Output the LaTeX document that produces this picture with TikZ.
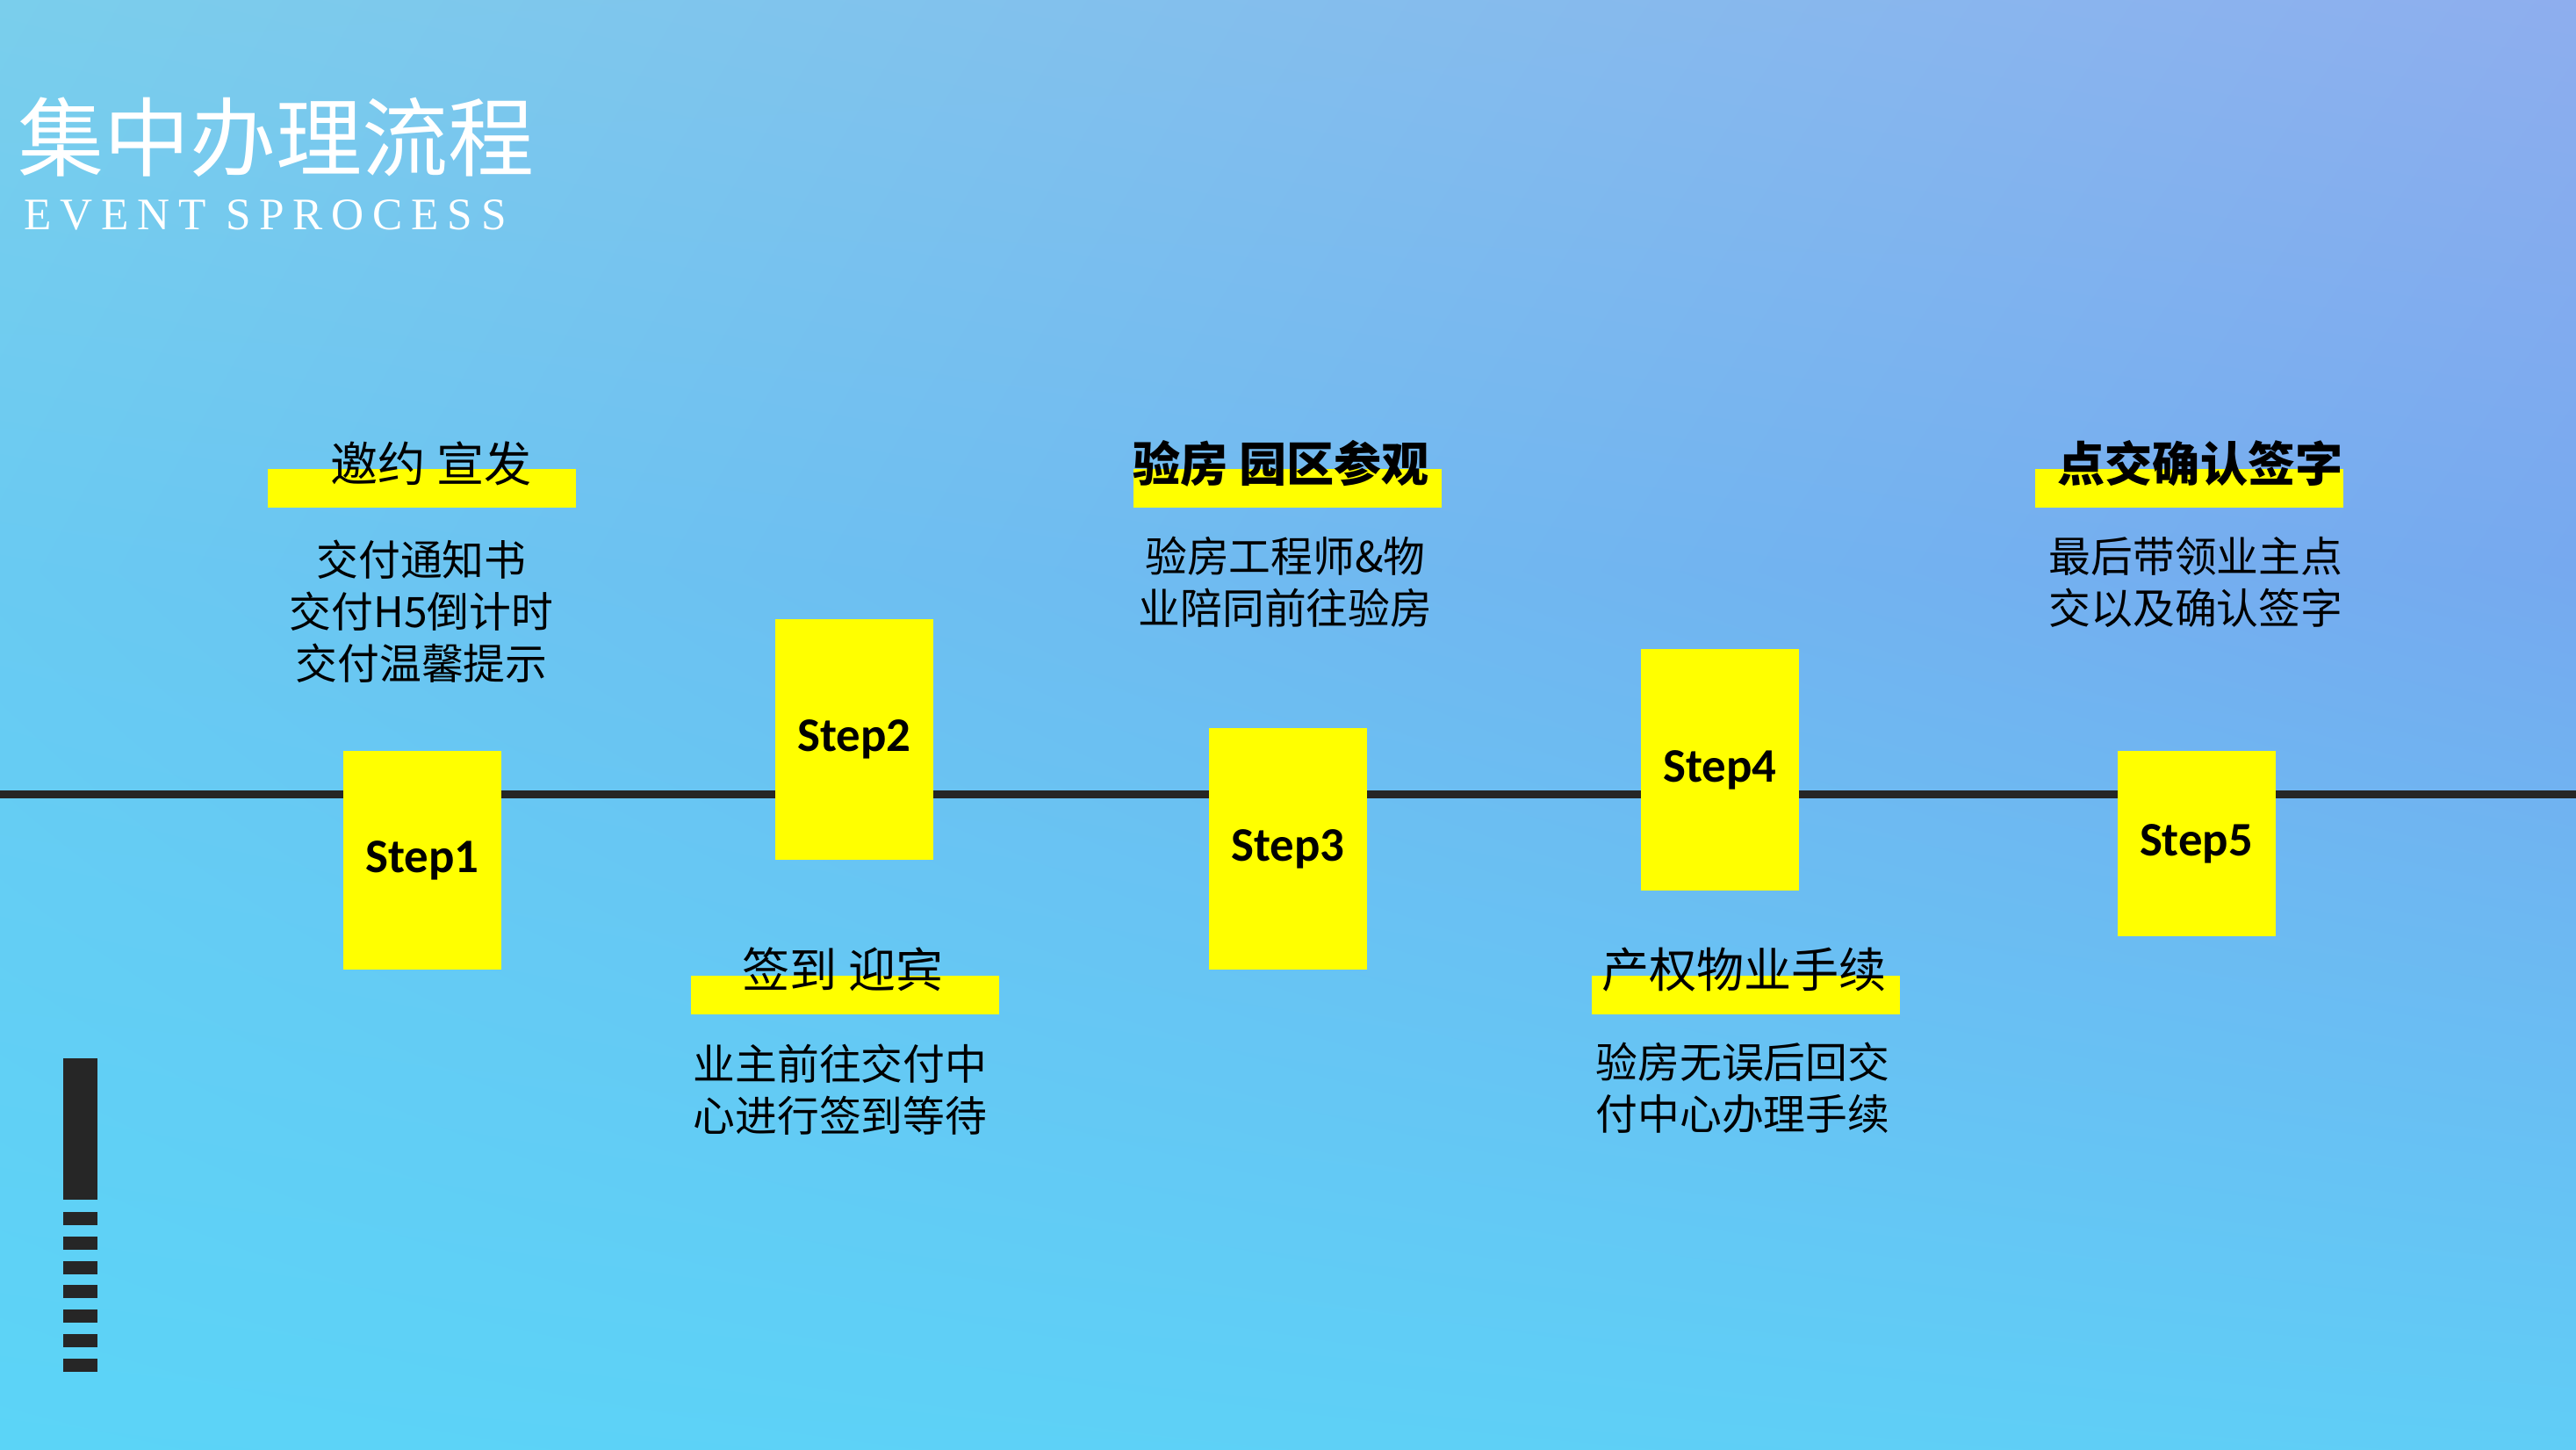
\documentclass[tikz,border=0pt]{standalone}
\usepackage{fontspec}
\usetikzlibrary{shadings}
\setmainfont{Liberation Serif}
\newfontfamily\cjk{Noto Sans CJK SC}
\newfontfamily\stepfont{Carlito}
\newfontfamily\evfont{Liberation Serif}[LetterSpace=19]
\definecolor{bgTL}{HTML}{7ACEEC}
\definecolor{bgTR}{HTML}{8EAEEE}
\definecolor{bgML}{HTML}{69CAF2}
\definecolor{bgMR}{HTML}{76A9EF}
\definecolor{bgBL}{HTML}{5BD4F7}
\definecolor{bgBR}{HTML}{60CDF6}
\definecolor{darkbar}{HTML}{262626}
\definecolor{hilite}{HTML}{FFFF00}

\begin{document}
\begin{tikzpicture}
        \tikzset{tline/.style = {line width=0.09cm, draw=darkbar}};
        \tikzset{stepbox/.style = {fill=hilite, minimum width=1.8cm, inner sep=0pt, font=\stepfont\bfseries\fontsize{15.6}{18}\selectfont}};
        \tikzset{hlbar/.style = {fill=hilite, minimum width=3.51cm, minimum height=0.44cm, inner sep=0pt}};
        \tikzset{headtxt/.style = {anchor=base, inner sep=0pt, font=\cjk\fontsize{15.4}{18}\selectfont}};
        \tikzset{bodytxt/.style = {align=center, inner sep=0pt, font=\cjk\fontsize{13.6}{16.8}\selectfont}};
        \tikzset{tick/.style = {fill=darkbar, minimum width=0.385cm, inner sep=0pt}};
        % background
        \shade[upper left=bgTL, upper right=bgTR, lower left=bgML, lower right=bgMR] (0,10) rectangle (29.34,16.5);
        \shade[upper left=bgML, upper right=bgMR, lower left=bgBL, lower right=bgBR] (0,0) rectangle (29.34,10);
        \useasboundingbox (0,0) rectangle (29.34,16.5);
        % title
        \node[anchor=base west, inner sep=0pt, text=white, font=\cjk\fontsize{27.9}{30}\selectfont] (ttl) at (0.20,14.56) {集中办理流程};
        \node[anchor=base west, inner sep=0pt, text=white, font=\evfont\fontsize{14.6}{16}\selectfont] (sub) at (0.27,13.88) {EVENT SPROCESS};
        % timeline
        \coordinate (lw) at (0,7.46);
        \coordinate (le) at (29.34,7.46);
        \draw[tline] (lw) -- (le);
        % steps
        \node[stepbox, minimum height=2.49cm] (s1) at (4.81,6.705) {Step1};
        \node[stepbox, minimum height=2.74cm] (s2) at (9.73,8.08) {Step2};
        \node[stepbox, minimum height=2.75cm] (s3) at (14.67,6.835) {Step3};
        \node[stepbox, minimum height=2.75cm] (s4) at (19.59,7.735) {Step4};
        \node[stepbox, minimum height=2.11cm] (s5) at (25.015,6.895) {Step5};
        % headlines
        \node[hlbar] (b1) at (4.80,10.94) {};
        \node[hlbar] (b2) at (9.62,5.175) {};
        \node[hlbar] (b3) at (14.665,10.94) {};
        \node[hlbar] (b4) at (19.885,5.175) {};
        \node[hlbar] (b5) at (24.935,10.94) {};
        \node[headtxt] (h1) at (4.91,11.02) {邀约 宣发};
        \node[headtxt] (h2) at (9.60,5.26) {签到 迎宾};
        \node[headtxt, font=\cjk\bfseries\fontsize{15.4}{18}\selectfont] (h3) at (14.59,11.02) {验房 园区参观};
        \node[headtxt] (h4) at (19.865,5.26) {产权物业手续};
        \node[headtxt, font=\cjk\bfseries\fontsize{15.4}{18}\selectfont] (h5) at (25.06,11.02) {点交确认签字};
        % texts
        \node[bodytxt] (t1) at (4.80,9.535) {交付通知书\\交付H5倒计时\\交付温馨提示};
        \node[bodytxt] (t2) at (9.57,4.09) {业主前往交付中\\心进行签到等待};
        \node[bodytxt] (t3) at (14.64,9.875) {验房工程师\&物\\业陪同前往验房};
        \node[bodytxt] (t4) at (19.85,4.11) {验房无误后回交\\付中心办理手续};
        \node[bodytxt] (t5) at (25.01,9.87) {最后带领业主点\\交以及确认签字};
        % bottom left mark
        \node[tick, minimum height=1.61cm] (mk) at (0.915,3.645) {};
        \foreach \k in {0,...,6}
            \node[tick, minimum height=0.15cm] (d\k) at (0.915,{2.625-0.278*\k}) {};
    \end{tikzpicture}
\end{document}
